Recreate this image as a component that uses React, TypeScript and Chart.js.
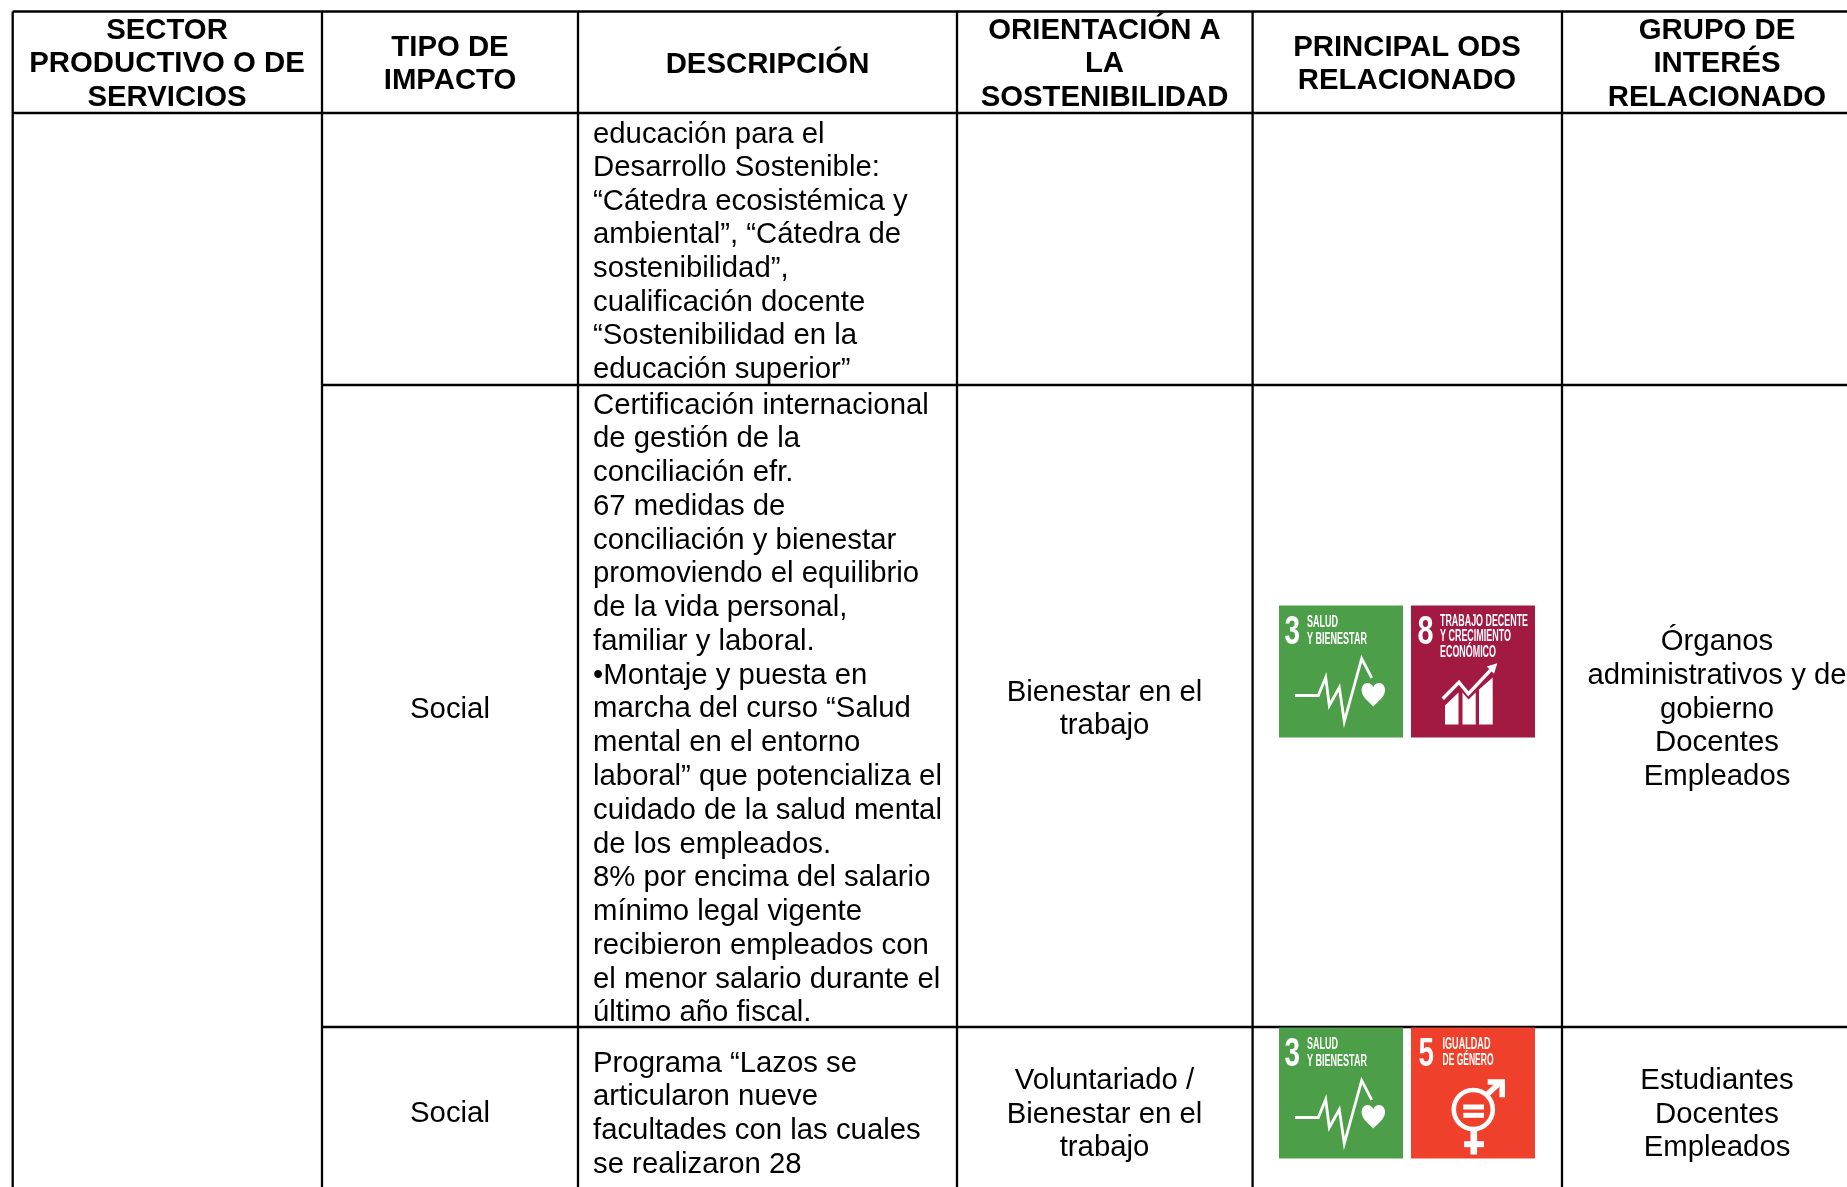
import React, { useEffect, useRef } from "react";
import { Chart, registerables } from "chart.js";

Chart.register(...registerables);

const WIDTH = 1847;
const HEIGHT = 1187;
const FONT = '"Liberation Sans", Arial, sans-serif';
const SIZE = 29.33;

const columnEdges = [12.7, 322, 578, 957, 1252.6, 1562];
const rowEdges = [11.5, 113, 385, 1027];
const columnCentres = [167, 450, 767.5, 1104.5, 1407, 1717];

const headers = [
  ["SECTOR", "PRODUCTIVO O DE", "SERVICIOS"],
  ["TIPO DE", "IMPACTO"],
  ["DESCRIPCIÓN"],
  ["ORIENTACIÓN A", "LA", "SOSTENIBILIDAD"],
  ["PRINCIPAL ODS", "RELACIONADO"],
  ["GRUPO DE", "INTERÉS", "RELACIONADO"],
];

const descriptionRow1 = [
  "educación para el",
  "Desarrollo Sostenible:",
  "“Cátedra ecosistémica y",
  "ambiental”, “Cátedra de",
  "sostenibilidad”,",
  "cualificación docente",
  "“Sostenibilidad en la",
  "educación superior”",
];
const descriptionRow2 = [
  "Certificación internacional",
  "de gestión de la",
  "conciliación efr.",
  "67 medidas de",
  "conciliación y bienestar",
  "promoviendo el equilibrio",
  "de la vida personal,",
  "familiar y laboral.",
  "•Montaje y puesta en",
  "marcha del curso “Salud",
  "mental en el entorno",
  "laboral” que potencializa el",
  "cuidado de la salud mental",
  "de los empleados.",
  "8% por encima del salario",
  "mínimo legal vigente",
  "recibieron empleados con",
  "el menor salario durante el",
  "último año fiscal.",
];
const descriptionRow3 = [
  "Programa “Lazos se",
  "articularon nueve",
  "facultades con las cuales",
  "se realizaron 28",
];

const impactRow2 = ["Social"];
const impactRow3 = ["Social"];
const orientationRow2 = ["Bienestar en el", "trabajo"];
const orientationRow3 = ["Voluntariado /", "Bienestar en el", "trabajo"];
const groupRow2 = ["Órganos", "administrativos y de", "gobierno", "Docentes", "Empleados"];
const groupRow3 = ["Estudiantes", "Docentes", "Empleados"];

const sdgGoals = [
  { goal: 3, lines: ["SALUD", "Y BIENESTAR"], colour: "#4C9F48" },
  { goal: 8, lines: ["TRABAJO DECENTE", "Y CRECIMIENTO", "ECONÓMICO"], colour: "#A21942" },
  { goal: 5, lines: ["IGUALDAD", "DE GÉNERO"], colour: "#EF402B" },
];

const tilePlacements = [
  { goal: 3, x: 1279, y: 605.5, h: 132 },
  { goal: 8, x: 1411, y: 605.5, h: 132 },
  { goal: 3, x: 1279, y: 1027.5, h: 131 },
  { goal: 5, x: 1411, y: 1027.5, h: 131 },
];

const tileTextLayout: Record<number, { x: number; digit: [number, number]; rows: [number, number][] }> = {
  3: { x: 28, digit: [5.5, 15.5], rows: [[21, 31], [38, 60]] },
  8: { x: 29, digit: [6.5, 16], rows: [[20, 88], [35, 71], [51, 56]] },
  5: { x: 31.5, digit: [7.5, 15.5], rows: [[21, 48], [37, 51]] },
};

const segments = (): { x: number; y: number }[][] => {
  const out: { x: number; y: number }[][] = [];
  for (const x of columnEdges) out.push([{ x, y: rowEdges[0] }, { x, y: HEIGHT }]);
  out.push([{ x: columnEdges[0], y: rowEdges[0] }, { x: WIDTH, y: rowEdges[0] }]);
  out.push([{ x: columnEdges[0], y: rowEdges[1] }, { x: WIDTH, y: rowEdges[1] }]);
  out.push([{ x: columnEdges[1], y: rowEdges[2] }, { x: WIDTH, y: rowEdges[2] }]);
  out.push([{ x: columnEdges[1], y: rowEdges[3] }, { x: WIDTH, y: rowEdges[3] }]);
  return out;
};

function fitted(ctx: CanvasRenderingContext2D, text: string, x: number, y: number, w: number, cap: number) {
  ctx.save();
  ctx.font = `bold ${cap / 0.72}px ${FONT}`;
  ctx.textAlign = "left";
  ctx.textBaseline = "alphabetic";
  const m = ctx.measureText(text).width;
  ctx.translate(x, y);
  ctx.scale(w / m, 1);
  ctx.fillText(text, 0, 0);
  ctx.restore();
}

function poly(ctx: CanvasRenderingContext2D, pts: number[][]) {
  ctx.beginPath();
  pts.forEach(([a, b], i) => (i ? ctx.lineTo(a, b) : ctx.moveTo(a, b)));
}

function pictogram(ctx: CanvasRenderingContext2D, goal: number) {
  ctx.fillStyle = "#fff";
  ctx.strokeStyle = "#fff";
  ctx.lineJoin = "miter";
  if (goal === 3) {
    ctx.lineWidth = 2.8;
    poly(ctx, [[16, 90], [39.3, 90], [46.7, 72], [50.3, 100], [60.3, 82], [65.3, 116], [82.7, 53], [92.7, 72.3]]);
    ctx.stroke();
    const cx = 94.3;
    ctx.beginPath();
    ctx.moveTo(cx, 101);
    ctx.bezierCurveTo(cx - 6, 95, cx - 11.7, 91, cx - 11.7, 84.5);
    ctx.bezierCurveTo(cx - 11.7, 77, cx - 3, 75, cx, 81.5);
    ctx.bezierCurveTo(cx + 3, 75, cx + 11.7, 77, cx + 11.7, 84.5);
    ctx.bezierCurveTo(cx + 11.7, 91, cx + 6, 95, cx, 101);
    ctx.fill();
  } else if (goal === 8) {
    poly(ctx, [[34, 100], [47.5, 87], [47.5, 119], [34, 119]]);
    ctx.fill();
    poly(ctx, [[51.5, 87], [57.5, 94], [64.7, 87], [64.7, 119], [51.5, 119]]);
    ctx.fill();
    poly(ctx, [[68, 84], [81.7, 72], [81.7, 119], [68, 119]]);
    ctx.fill();
    ctx.lineWidth = 3.4;
    poly(ctx, [[31.7, 93.3], [48, 76.7], [57.3, 88.3], [80.7, 63.3]]);
    ctx.stroke();
    poly(ctx, [[86.3, 57.7], [75.7, 61], [83, 68.3]]);
    ctx.fill();
  } else {
    ctx.lineWidth = 4.6;
    ctx.beginPath();
    ctx.arc(62.3, 82, 19.5, 0, Math.PI * 2);
    ctx.stroke();
    ctx.fillRect(52.3, 77, 20.7, 5);
    ctx.fillRect(52.3, 85.3, 20.7, 5);
    ctx.fillRect(59.5, 103, 6.6, 24);
    ctx.fillRect(53, 113.7, 20, 6);
    ctx.lineWidth = 5.5;
    poly(ctx, [[75, 68], [89, 55]]);
    ctx.stroke();
    poly(ctx, [[76.7, 51.7], [94, 51.7], [94, 69.7], [88.5, 69.7], [88.5, 57.2], [76.7, 57.2]]);
    ctx.fill();
  }
}

const tablePlugin = {
  id: "tableText",
  afterDatasetsDraw(chart: any) {
    const { ctx, scales } = chart;
    const px = (v: number) => scales.x.getPixelForValue(v);
    const py = (v: number) => scales.y.getPixelForValue(v);
    const block = (lines: string[], x: number, y: number, step: number, align: CanvasTextAlign, bold = false) => {
      ctx.save();
      ctx.fillStyle = "#000";
      ctx.font = `${bold ? "bold " : ""}${SIZE}px ${FONT}`;
      ctx.textAlign = align;
      ctx.textBaseline = "alphabetic";
      lines.forEach((t, i) => ctx.fillText(t, px(x), py(y + i * step)));
      ctx.restore();
    };

    const headerStart = [38.5, 56, 72.5, 38.5, 56, 38.5];
    const headerStep = [33.9, 33.4, 33.4, 33.9, 33.4, 33.9];
    headers.forEach((lines, i) => block(lines, columnCentres[i], headerStart[i], headerStep[i], "center", true));

    block(descriptionRow1, 593, 142.5, 33.6, "left");
    block(descriptionRow2, 593, 413.5, 33.77, "left");
    block(descriptionRow3, 593, 1071.5, 33.7, "left");

    block(impactRow2, columnCentres[1], 718, 33.7, "center");
    block(impactRow3, columnCentres[1], 1122, 33.7, "center");
    block(orientationRow2, columnCentres[3], 700.5, 33.7, "center");
    block(orientationRow3, columnCentres[3], 1089, 33.7, "center");
    block(groupRow2, columnCentres[5], 650, 33.75, "center");
    block(groupRow3, columnCentres[5], 1089, 33.7, "center");

    for (const p of tilePlacements) {
      const sdg = sdgGoals.find((g) => g.goal === p.goal)!;
      const layout = tileTextLayout[p.goal];
      ctx.save();
      ctx.translate(px(p.x), py(p.y));
      ctx.fillStyle = sdg.colour;
      ctx.fillRect(0, 0, 124, p.h);
      ctx.fillStyle = "#fff";
      fitted(ctx, String(sdg.goal), layout.digit[0], 38, layout.digit[1], 29);
      sdg.lines.forEach((t, i) => fitted(ctx, t, layout.x, layout.rows[i][0], layout.rows[i][1], 11.5));
      pictogram(ctx, p.goal);
      ctx.restore();
    }
  },
};

export default function App() {
  const ref = useRef<HTMLCanvasElement>(null);
  useEffect(() => {
    document.body.style.margin = "0";
    const chart = new Chart(ref.current!, {
      type: "scatter",
      data: {
        datasets: segments().map((data) => ({
          data,
          showLine: true,
          borderColor: "#000",
          borderWidth: 2.3,
          pointRadius: 0,
          clip: false as any,
        })),
      },
      options: {
        responsive: false,
        animation: false,
        layout: { padding: 0 },
        plugins: { legend: { display: false }, tooltip: { enabled: false } },
        scales: {
          x: { type: "linear", display: false, min: 0, max: WIDTH },
          y: { type: "linear", display: false, min: 0, max: HEIGHT, reverse: true },
        },
      },
      plugins: [tablePlugin],
    });
    return () => chart.destroy();
  }, []);
  return (
    <div style={{ position: "absolute", left: 0, top: 0, width: WIDTH, height: HEIGHT, background: "#fff" }}>
      <canvas ref={ref} width={WIDTH} height={HEIGHT} style={{ display: "block" }} />
    </div>
  );
}
